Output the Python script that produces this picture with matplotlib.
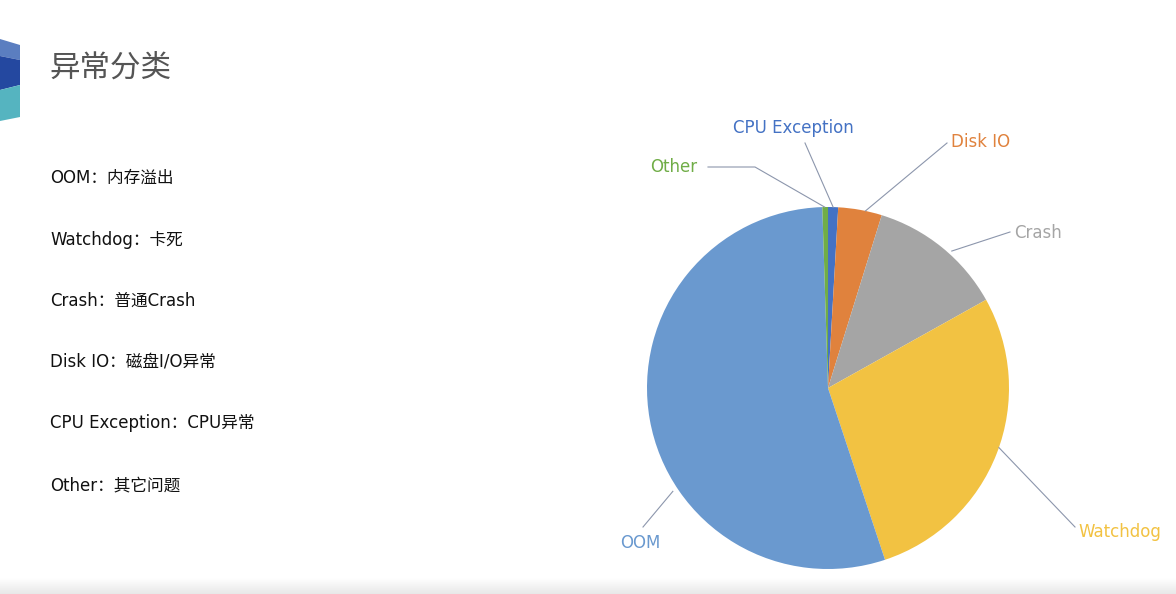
import numpy as np
import matplotlib.pyplot as plt
from matplotlib.patches import Polygon

# pie data (clockwise from 12 o'clock)
labels = ['CPU Exception', 'Disk IO', 'Crash', 'Watchdog', 'OOM', 'Other']
shares = [0.9, 3.9, 12.1, 28.0, 54.6, 0.5]
colors = ['#4472C4', '#E0823D', '#A5A5A5', '#F2C242', '#6A99CF', '#70AD47']

# left side notes
notes = ['OOM：内存溢出', 'Watchdog：卡死', 'Crash：普通Crash',
         'Disk IO：磁盘I/O异常', 'CPU Exception：CPU异常', 'Other：其它问题']
title = '异常分类'

W, H = 1176, 594
fig = plt.figure(figsize=(W / 100, H / 100), dpi=100)
fig.patch.set_facecolor('white')

# background axes in pixel coordinates
bg = fig.add_axes([0, 0, 1, 1])
bg.axis('off')

# grey strip at the bottom
grad = np.linspace(1.0, 0.91, 50).reshape(-1, 1)
bg.imshow(np.dstack([grad] * 3), extent=(0, W, 594, 578), aspect='auto', zorder=0)

bg.set_xlim(0, W)
bg.set_ylim(H, 0)

# logo blocks at top-left
bg.add_patch(Polygon([(0, 39), (20, 45), (20, 60), (0, 56)], color='#5B7EC0', lw=0))
bg.add_patch(Polygon([(0, 56), (20, 60), (20, 85), (0, 90)], color='#2448A0', lw=0))
bg.add_patch(Polygon([(0, 90), (20, 85), (20, 117), (0, 121)], color='#55B4C0', lw=0))

bg.text(49, 68, title, fontsize=22, color='#555555', va='center', ha='left',
        family=['Noto Sans CJK SC', 'DejaVu Sans'])

note_y = [178, 240, 301, 361, 423, 485]
for txt, y in zip(notes, note_y):
    bg.text(50, y, txt, fontsize=12, color='#111111', va='center', ha='left',
            family=['DejaVu Sans', 'Noto Sans CJK SC'])

# pie
cx, cy, R = 828, 388, 181
ax = fig.add_axes([(cx - R) / W, (H - cy - R) / H, 2 * R / W, 2 * R / H])
wedges, _ = ax.pie(shares, colors=colors, startangle=90, counterclock=False,
                   radius=1, wedgeprops=dict(linewidth=0))
ax.set_xlim(-1, 1)
ax.set_ylim(-1, 1)
ax.set_aspect('equal')
ax.axis('off')

def px(x, y):
    return (x - cx) / R, (cy - y) / R

# label layout: text pos (px), alignment, leader path start (px), anchor fraction / radius
layout = {
    'CPU Exception': dict(pos=(793, 128), ha='center', path=[(805, 143)], frac=0.5, r=1.0),
    'Disk IO': dict(pos=(951, 142), ha='left', path=[(947, 143)], frac=0.62, r=1.0),
    'Crash': dict(pos=(1014, 233), ha='left', path=[(1010, 232)], frac=0.57, r=1.02),
    'Watchdog': dict(pos=(1078, 532), ha='left', path=[(1075, 527)], frac=0.48, r=1.0),
    'OOM': dict(pos=(620, 543), ha='left', path=[(643, 527)], frac=0.38, r=1.03),
    'Other': dict(pos=(697, 167), ha='right', path=[(708, 167), (755, 167)], frac=0.4, r=1.0),
}

for w, lab, col in zip(wedges, labels, colors):
    lo = layout[lab]
    ang = np.deg2rad(w.theta2 - lo['frac'] * (w.theta2 - w.theta1))
    end = (lo['r'] * np.cos(ang), lo['r'] * np.sin(ang))
    pts = [px(*p) for p in lo['path']] + [end]
    xs, ys = zip(*pts)
    ax.plot(xs, ys, color='#8C96AC', lw=0.8, clip_on=False)
    tx, ty = px(*lo['pos'])
    ax.text(tx, ty, lab, color=col, fontsize=12, ha=lo['ha'], va='center',
            family=['DejaVu Sans'], clip_on=False)

fig.savefig('out.png', dpi=100)
